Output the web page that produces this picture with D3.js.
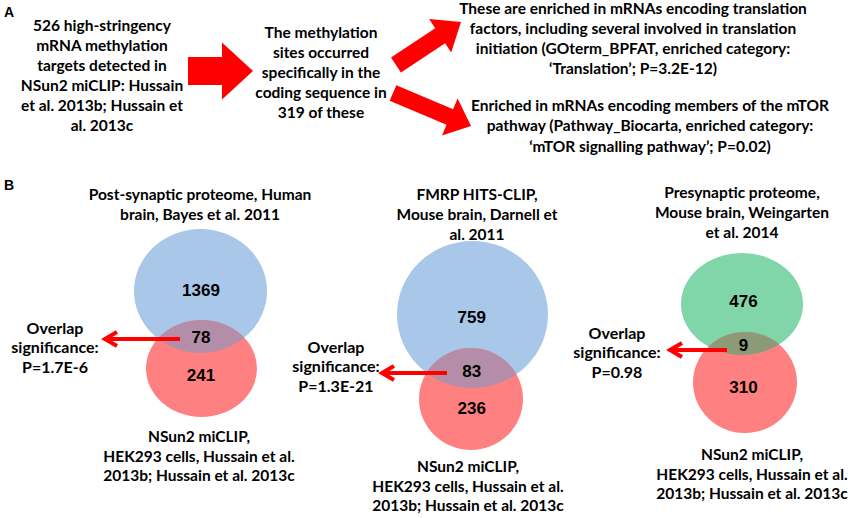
<!DOCTYPE html>
<html>
<head>
<meta charset="utf-8">
<script src="https://cdn.jsdelivr.net/npm/d3@7"></script>
<style>
  body { margin: 0; background: #ffffff; }
  svg text { font-family: Lato, "Open Sans", sans-serif; font-weight: bold; fill: #000; }
  svg text.num { font-family: "Liberation Sans", Arial, sans-serif; }
</style>
</head>
<body>
<svg id="fig" width="851" height="518"></svg>
<script>
// panel A texts
var flowTexts = [
  ["526 high-stringency", "mRNA methylation", "targets detected in", "NSun2 miCLIP: Hussain", "et al. 2013b; Hussain et", "al. 2013c"],
  ["The methylation", "sites occurred", "specifically in the", "coding sequence in", "319 of these"],
  ["These are enriched in mRNAs encoding translation", "factors, including several involved in translation", "initiation (GOterm_BPFAT, enriched category:", "\u2018Translation\u2019; P=3.2E-12)"],
  ["Enriched in mRNAs encoding members of the mTOR", "pathway (Pathway_Biocarta, enriched category:", "\u2018mTOR signalling pathway\u2019; P=0.02)"]
];

// panel B: venn sets
var vennTitles = [
  ["Post-synaptic proteome, Human", "brain, Bayes et al. 2011"],
  ["FMRP HITS-CLIP,", "Mouse brain, Darnell et", "al. 2011"],
  ["Presynaptic proteome,", "Mouse brain, Weingarten", "et al. 2014"]
];
var nsunLabel = ["NSun2 miCLIP,", "HEK293 cells, Hussain et al.", "2013b; Hussain et al. 2013c"];
var onlyOther = [1369, 759, 476];
var overlapCount = [78, 83, 9];
var onlyNsun = [241, 236, 310];
var pValues = ["P=1.7E-6", "P=1.3E-21", "P=0.98"];
var otherColor = ["#a9c7e8", "#a9c7e8", "#80d5a9"];
var lensColor = ["#b48ea9", "#b48ea9", "#8b9b78"];

var svg = d3.select("#fig");

function textBlock(g, lines, cx, y0, step, cls) {
    var t = g.append("text").attr("text-anchor", "middle").attr("class", cls || null);
    t.selectAll("tspan").data(lines).enter().append("tspan")
        .attr("x", cx)
        .attr("y", (d, i) => y0 + i * step)
        .attr("dy", "0.35em")
        .text(d => d);
    return t;
}

// block arrow from tail to tip
function blockArrow(x0, y0, x1, y1, shaft, headW, headL) {
    var dx = x1 - x0, dy = y1 - y0, len = Math.sqrt(dx * dx + dy * dy);
    var ux = dx / len, uy = dy / len, px = -uy, py = ux;
    var bx = x1 - ux * headL, by = y1 - uy * headL;
    var pts = [
        [x0 + px * shaft / 2, y0 + py * shaft / 2],
        [bx + px * shaft / 2, by + py * shaft / 2],
        [bx + px * headW / 2, by + py * headW / 2],
        [x1, y1],
        [bx - px * headW / 2, by - py * headW / 2],
        [bx - px * shaft / 2, by - py * shaft / 2],
        [x0 - px * shaft / 2, y0 - py * shaft / 2]
    ];
    return d3.line()(pts) + "Z";
}

// ---- panel A ----
var A = svg.append("g").attr("id", "panelA");
A.append("text").attr("class", "num").attr("x", 4).attr("y", 17).style("font-size", "14px").text("A");

var flowLayout = [
    {cx: 102, y: 26, step: 20},
    {cx: 321, y: 33, step: 20},
    {cx: 633, y: 8.5, step: 20},
    {cx: 650, y: 105.5, step: 20.5}
];
flowTexts.forEach((lines, i) => {
    var l = flowLayout[i];
    textBlock(A, lines, l.cx, l.y, l.step).style("font-size", "15.5px");
});

var bigArrows = [
    [188, 71, 253, 71, 28, 57, 31],
    [396, 65, 461, 22, 18, 40, 25],
    [393, 93, 471, 126, 17, 40, 23]
];
A.selectAll("path.big").data(bigArrows).enter().append("path")
    .attr("class", "big")
    .attr("d", d => blockArrow.apply(null, d))
    .style("fill", "#ff0000");

// ---- panel B ----
var B = svg.append("g").attr("id", "panelB");
B.append("text").attr("class", "num").attr("x", 4).attr("y", 190).style("font-size", "14px").text("B");

var vennLayout = [
    {big: [200.5, 291, 66.5, 62], small: [201.5, 368.5, 55.5, 48.5], nums: [290, 337, 375],
     title: [200, 195], bottom: [199, 437], ov: [55, 328], arrow: [180, 339, 102]},
    {big: [472.5, 314.5, 75.5, 73.5], small: [471, 399, 52, 51], nums: [317, 371, 408],
     title: [477, 195], bottom: [468, 467], ov: [336, 347], arrow: [447, 373, 379]},
    {big: [742, 304, 61, 51], small: [745, 382.5, 52, 50.5], nums: [301, 345, 387],
     title: [742, 193], bottom: [752, 455], ov: [617, 333], arrow: [727, 350, 667]}
];

vennLayout.forEach((v, i) => {
    var g = B.append("g").attr("id", "venn" + i);
    var defs = g.append("defs");
    defs.append("clipPath").attr("id", "clipBig" + i)
        .append("ellipse")
        .attr("cx", v.big[0]).attr("cy", v.big[1]).attr("rx", v.big[2]).attr("ry", v.big[3]);

    g.append("ellipse")
        .attr("cx", v.big[0]).attr("cy", v.big[1]).attr("rx", v.big[2]).attr("ry", v.big[3])
        .style("fill", otherColor[i]);
    g.append("ellipse")
        .attr("cx", v.small[0]).attr("cy", v.small[1]).attr("rx", v.small[2]).attr("ry", v.small[3])
        .style("fill", "#ff8080");
    g.append("ellipse")
        .attr("clip-path", "url(#clipBig" + i + ")")
        .attr("cx", v.small[0]).attr("cy", v.small[1]).attr("rx", v.small[2]).attr("ry", v.small[3])
        .style("fill", lensColor[i]);

    var cx = (v.big[0] + v.small[0]) / 2;
    [onlyOther[i], overlapCount[i], onlyNsun[i]].forEach((n, k) => {
        g.append("text").attr("class", "num")
            .attr("x", cx).attr("y", v.nums[k]).attr("dy", "0.35em")
            .attr("text-anchor", "middle")
            .style("font-size", "17px")
            .text(n);
    });

    // overlap significance arrow
    var a = v.arrow;
    g.append("path")
        .attr("d", "M" + a[0] + "," + a[1] + "H" + (a[2] + 2))
        .style("stroke", "#ff0000").style("stroke-width", 4).style("fill", "none");
    g.append("path")
        .attr("d", "M" + (a[2] + 15) + "," + (a[1] - 7) + "L" + (a[2] + 3) + "," + a[1] + "L" + (a[2] + 15) + "," + (a[1] + 7))
        .style("stroke", "#ff0000").style("stroke-width", 4).style("fill", "none")
        .style("stroke-linecap", "butt").style("stroke-linejoin", "miter");

    textBlock(g, vennTitles[i], v.title[0], v.title[1], 20).style("font-size", "15.5px");
    textBlock(g, nsunLabel, v.bottom[0], v.bottom[1], 19.5).style("font-size", "15.5px");
    textBlock(g, ["Overlap", "significance:", pValues[i]], v.ov[0], v.ov[1], 19.5).style("font-size", "16px");
});
</script>
</body>
</html>
